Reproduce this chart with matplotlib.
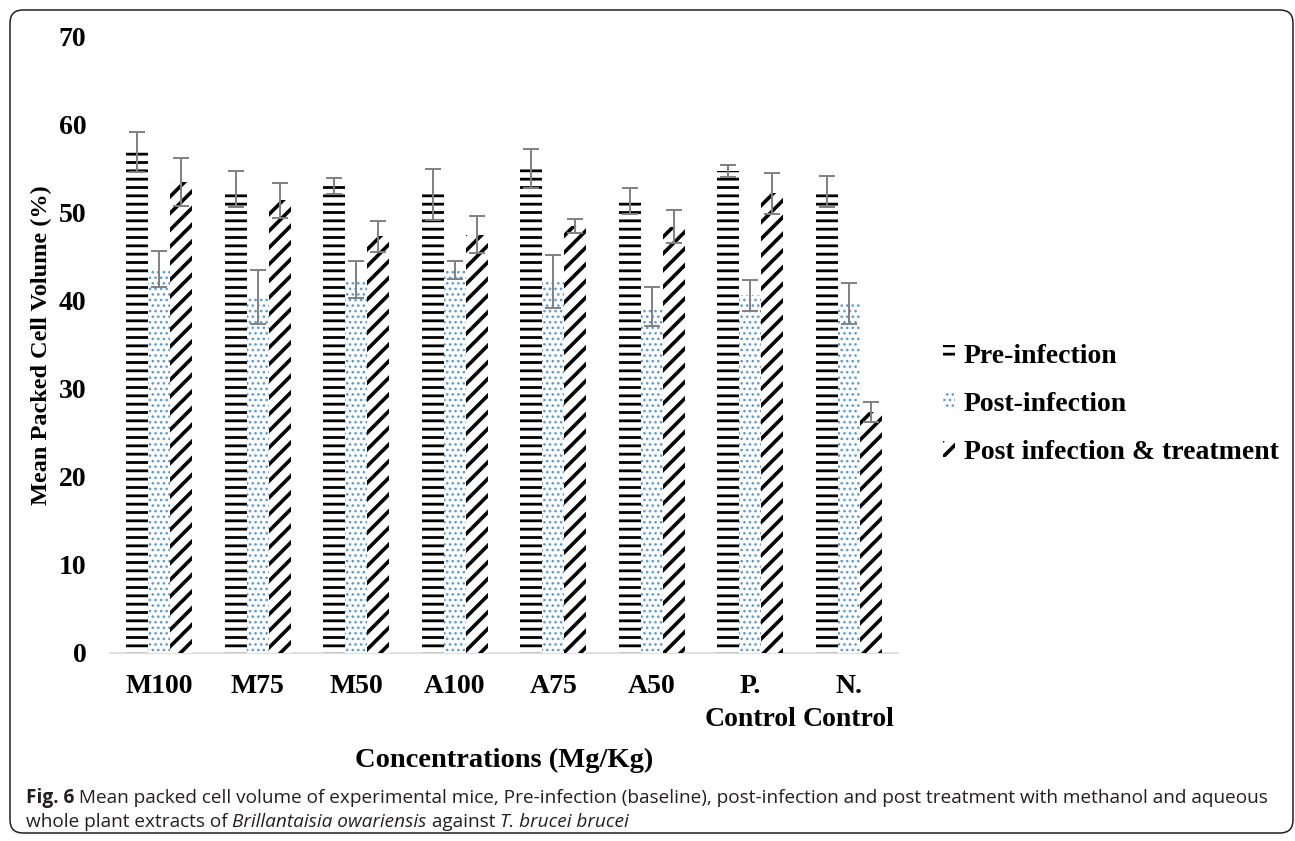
import matplotlib
matplotlib.use("Agg")
import numpy as np
import matplotlib.pyplot as plt
from matplotlib.patches import FancyBboxPatch, Patch

# ---- data -------------------------------------------------------------
categories = ["M100", "M75", "M50", "A100", "A75", "A50", "P.\nControl", "N.\nControl"]
series_names = ["Pre-infection", "Post-infection", "Post infection & treatment"]

pre_infection = [56.9, 52.7, 53.0, 52.1, 55.0, 51.3, 54.7, 52.4]
pre_infection_err = [2.3, 2.0, 0.9, 2.9, 2.2, 1.45, 0.7, 1.8]

post_infection = [43.6, 40.4, 42.4, 43.5, 42.2, 39.3, 40.6, 39.7]
post_infection_err = [2.05, 3.1, 2.1, 1.0, 3.0, 2.2, 1.8, 2.3]

post_treatment = [53.5, 51.4, 47.3, 47.5, 48.5, 48.4, 52.2, 27.35]
post_treatment_err = [2.7, 1.95, 1.8, 2.1, 0.8, 1.9, 2.3, 1.1]

yticks = [0, 10, 20, 30, 40, 50, 60, 70]

# ---- styling ----------------------------------------------------------
serif = ["Liberation Serif", "DejaVu Serif"]
caption_font = ["Open Sans", "DejaVu Sans"]
tick_size = 20
xlabel_size = 20.5
ylabel_size = 17.5

fig = plt.figure(figsize=(12.95, 8.41), dpi=100)
ax = fig.add_axes([0.0849, 0.2239, 0.6085, 0.7325])

x = np.arange(len(categories))
bar_w = 0.223

series = [
    (pre_infection, pre_infection_err, "black", "--", 2.0),
    (post_infection, post_infection_err, "#5b9bd5", "...", 1.1),
    (post_treatment, post_treatment_err, "black", "//", 2.6),
]

handles = []
for i, (vals, errs, hcolor, hatch, hlw) in enumerate(series):
    offs = (i - 1) * bar_w
    with plt.rc_context({"hatch.linewidth": hlw}):
        bars = ax.bar(x + offs, vals, width=bar_w, facecolor="white",
                      edgecolor=hcolor, linewidth=0, hatch=hatch, zorder=2)
        for b in bars:
            if hasattr(b, "set_hatch_linewidth"):
                b.set_hatch_linewidth(hlw)
        h = Patch(facecolor="white", edgecolor=hcolor, linewidth=0, hatch=hatch,
                  label=series_names[i])
        if hasattr(h, "set_hatch_linewidth"):
            h.set_hatch_linewidth(hlw)
    handles.append(h)
    ax.errorbar(x + offs, vals, yerr=errs, fmt="none", ecolor="#808080",
                elinewidth=1.4, capsize=5.5, capthick=1.4, zorder=3)

ax.set_xlim(-0.5, len(categories) - 0.5)
ax.set_ylim(0, 70)
ax.set_yticks(yticks)
ax.set_xticks(x)
ax.set_xticklabels(categories)

for side in ("top", "right", "left"):
    ax.spines[side].set_visible(False)
ax.spines["bottom"].set_color("#d9d9d9")
ax.spines["bottom"].set_linewidth(1.2)
ax.spines["bottom"].set_zorder(1)

ax.tick_params(axis="both", length=0)
ax.tick_params(axis="y", pad=17)
ax.tick_params(axis="x", pad=15)
for lab in ax.get_xticklabels() + ax.get_yticklabels():
    lab.set_fontfamily(serif)
    lab.set_fontweight("bold")
    lab.set_fontsize(tick_size)
    lab.set_linespacing(1.45)

ax.set_xlabel("Concentrations (Mg/Kg)", fontfamily=serif, fontweight="bold",
              fontsize=xlabel_size)
ax.xaxis.set_label_coords(0.5, -0.175)
ax.xaxis.label.set_va("center")
ax.set_ylabel("Mean Packed Cell Volume (%)", fontfamily=serif, fontweight="bold",
              fontsize=ylabel_size)
ax.yaxis.set_label_coords(-0.087, 0.5)
ax.yaxis.label.set_va("center")

leg = ax.legend(handles=handles, loc="center left", bbox_to_anchor=(0.728, 0.519),
                bbox_transform=fig.transFigure, frameon=False,
                prop={"family": serif, "weight": "bold", "size": tick_size},
                handlelength=0.45, handleheight=0.5, handletextpad=0.3,
                labelspacing=0.83, borderaxespad=0, borderpad=0)
for p, (_, _, _, _, hlw) in zip(leg.get_patches(), series):
    if hasattr(p, "set_hatch_linewidth"):
        p.set_hatch_linewidth(hlw)

# ---- caption ------------------------------------------------------------
renderer = fig.canvas.get_renderer()
W = fig.bbox.width
cap_color = "#231f20"
cap_size = 13.7


def write_runs(runs, y, x0=26 / 1295):
    xpos = x0
    for text, weight, style in runs:
        t = fig.text(xpos, y, text, fontfamily=caption_font, fontsize=cap_size,
                     fontweight=weight, fontstyle=style, color=cap_color,
                     ha="left", va="baseline")
        bb = t.get_window_extent(renderer)
        xpos = bb.x1 / W


write_runs([
    ("Fig. 6", "bold", "normal"),
    (" Mean packed cell volume of experimental mice, Pre-infection (baseline), "
     "post-infection and post treatment with methanol and aqueous", "normal", "normal"),
], (841 - 803) / 841)
write_runs([
    ("whole plant extracts of ", "normal", "normal"),
    ("Brillantaisia owariensis", "normal", "italic"),
    (" against ", "normal", "normal"),
    ("T. brucei brucei", "normal", "italic"),
], (841 - 827) / 841)

# rounded frame around the figure
frame = FancyBboxPatch((0.10, 0.08), 12.83, 8.23,
                       boxstyle="round,pad=0,rounding_size=0.13",
                       transform=fig.dpi_scale_trans, fill=False,
                       edgecolor=cap_color, linewidth=1.1)
fig.add_artist(frame)

fig.savefig("out.png", dpi=100)
